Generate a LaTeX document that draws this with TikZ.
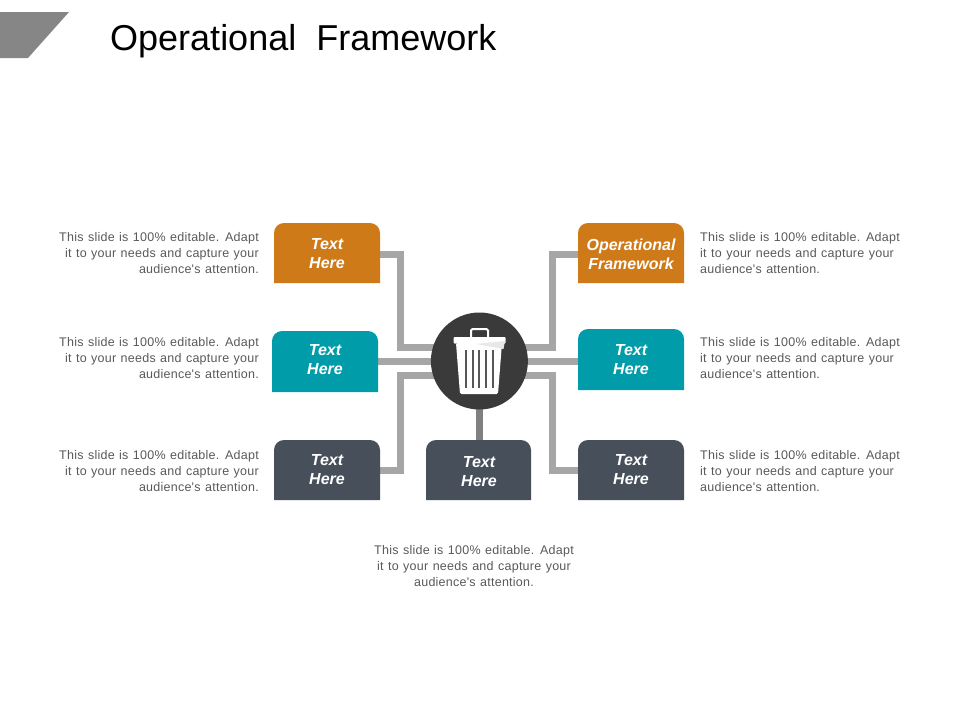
\documentclass[tikz,border=0pt]{standalone}
\usetikzlibrary{backgrounds}
\usepackage{fontspec}
\setmainfont{Liberation Sans}
\newfontfamily\notefont[WordSpace=1.2,LetterSpace=2]{Liberation Sans}
\newfontfamily\titlefont[WordSpace=2]{Liberation Sans}
\definecolor{tabOrange}{HTML}{CF7A19}
\definecolor{tabTeal}{HTML}{019CA9}
\definecolor{tabSlate}{HTML}{474F5B}
\definecolor{hubDark}{HTML}{3A3A3A}
\definecolor{wireGrey}{HTML}{A6A6A6}
\definecolor{noteGrey}{HTML}{595959}
\tikzset{
  tabtext/.style={minimum width=106pt,minimum height=60pt,inner sep=0pt,align=center,text=white,
    font=\fontsize{16}{19}\selectfont\bfseries\itshape},
  note/.style={inner sep=0pt,text=noteGrey,font=\notefont\fontsize{12.5}{16}\selectfont},
  wire/.style={draw=wireGrey,line width=7pt,line join=miter},
}
\begin{document}
\begin{tikzpicture}[x=1pt,y=-1pt]
\useasboundingbox (0,0) rectangle (960,720);

\fill[gray!95] (0,12) -- (69,12) -- (28,58) -- (0,58) -- cycle;
\node [anchor=west,inner sep=0pt,font=\titlefont\fontsize{36}{40}\selectfont] (title) at (110,41) {Operational Framework};

\node [circle,fill=hubDark,minimum size=97pt,inner sep=0pt] (hub) at (479.4,361) {};

% tabs
\foreach \n/\x/\y/\h/\w/\c/\ty/\t in {a/274/223/60/106/tabOrange/254/Text\\Here, b/272/331/61/106/tabTeal/360/Text\\Here, c/274/440/60/106/tabSlate/470/Text\\Here,
    d/426/440/60/105/tabSlate/471.5/Text\\Here, e/578/223/60/106/tabOrange/254/Operational\\Framework, f/578/329/61/106/tabTeal/360/Text\\Here, g/578/440/60/106/tabSlate/470/Text\\Here}{
  \fill [\c] (\x,\y+\h) -- (\x,\y+10) [rounded corners=10pt] -- (\x,\y) -- (\x+\w,\y) [sharp corners] -- (\x+\w,\y+10) -- (\x+\w,\y+\h) -- cycle;
  \node [tabtext] (box-\n) at (\x+53,\ty) {\t};
}

% connectors
\begin{scope}[on background layer]
\draw [wire] (box-a.east) -| (400,347) -- (hub.center |- 0,347);
\draw [wire] (box-c.east) -| (400,375) -- (hub.center |- 0,375);
\draw [wire] (box-e.west) -| (552,347) -- (hub.center |- 0,347);
\draw [wire] (box-g.west) -| (552,375) -- (hub.center |- 0,375);
\draw [wire] (box-b.east |- hub.west) -- (hub.center);
\draw [wire] (box-f.west |- hub.east) -- (hub.center);
\draw [wire,draw=gray,xshift=-1.2pt] (box-d.north) -- (box-d.north |- hub.center);
\end{scope}

% trash can
\fill [white,rounded corners=1.5pt] (456,343) -- (460,394) -- (498,394) -- (502,343) -- cycle;
\fill [white,rounded corners=1pt] (453.5,337) rectangle (505.5,343.5);
\draw [white,line width=2pt,rounded corners=1.5pt] (471,337) -- (471,329) -- (488,329) -- (488,337);
\fill [gray!18] (476,344) -- (505,341) -- (503.5,349) -- cycle;
\foreach \x in {466,472.7,479.3,486,492.7}
  \draw [hubDark!85,line width=1.8pt] (\x,350) -- (\x,388);

% notes
\foreach \n/\y in {a/253.5,b/358.5,c/471.5}
  \node [note,align=right,anchor=east] (note-\n) at (259,\y) {This slide is 100\% editable. Adapt\\it to your needs and capture your\\audience's attention.};
\foreach \n/\y in {e/253.5,f/358.5,g/471.5}
  \node [note,align=left,anchor=west] (note-\n) at (700,\y) {This slide is 100\% editable. Adapt\\it to your needs and capture your\\audience's attention.};
\node [note,align=center] (note-d) at (474,566) {This slide is 100\% editable. Adapt\\it to your needs and capture your\\audience's attention.};
\end{tikzpicture}
\end{document}
